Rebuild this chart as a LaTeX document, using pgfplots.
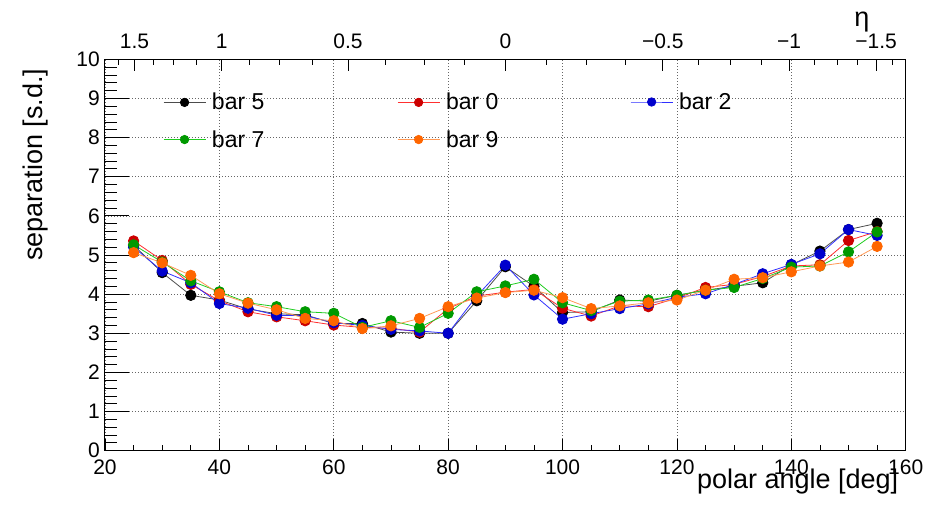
\documentclass[border=0pt]{standalone}
\usepackage{fontspec}
\setmainfont{Liberation Sans}
\usepackage{pgfplots}
\pgfplotsset{compat=1.18}
\definecolor{mred}{HTML}{CC0000}
\definecolor{lred}{HTML}{FF3030}
\definecolor{mblue}{HTML}{0000CC}
\definecolor{lblue}{HTML}{3030FF}
\definecolor{mgreen}{HTML}{009900}
\definecolor{lgreen}{HTML}{20CC20}
\definecolor{morange}{HTML}{FF6600}
\definecolor{lorange}{HTML}{FF9955}
\newcommand\tickfont{\fontsize{21bp}{23bp}\selectfont}
\newcommand\labfont{\fontsize{27bp}{30bp}\selectfont}
\newcommand\legfont{\fontsize{23bp}{25bp}\selectfont}
\pgfplotsset{
  common/.style={at={(0,0)}, anchor=south west, scale only axis,
    width=800.7bp, height=391.4bp, xmin=20, xmax=160, ymin=0, ymax=10,
    /pgf/number format/assume math mode=true, tick align=inside},
  s5/.style={color=black!70, line width=0.8bp, mark=*, mark size=5.2bp, mark options={draw=black, fill=black}},
  s0/.style={color=lred, line width=0.8bp, mark=*, mark size=5.2bp, mark options={draw=mred, fill=mred}},
  s2/.style={color=lblue, line width=0.8bp, mark=*, mark size=5.2bp, mark options={draw=mblue, fill=mblue}},
  s7/.style={color=lgreen, line width=0.8bp, mark=*, mark size=5.2bp, mark options={draw=mgreen, fill=mgreen}},
  s9/.style={color=lorange, line width=0.8bp, mark=*, mark size=5.2bp, mark options={draw=morange, fill=morange}},
  legax/.style={common, hide axis,
    legend style={draw=none, fill=none, inner sep=0pt, font=\legfont, anchor=west, row sep=15bp,
      /tikz/every odd column/.append style={column sep=4bp}},
    legend cell align=left,
    legend image code/.code={\draw[mark repeat=2,mark phase=2,##1,mark size=4.2bp] plot coordinates {(0bp,0bp) (21bp,0bp) (42bp,0bp)};}},
}
\begin{document}
\begin{tikzpicture}
\path[use as bounding box] (-105bp,-54.3bp) rectangle (821bp,450.7bp);
\begin{axis}[common,
  xtick={20,40,...,160}, xticklabels={}, xtick style={draw=none},
  ytick={0,1,...,10}, minor y tick num=4, ytick pos=left,
  major tick length=24bp, minor tick length=12bp,
  tick style={line width=0.8bp, black},
  axis line style={line width=1bp},
  yticklabel style={font=\tickfont, inner sep=0pt, xshift=-5bp},
  xmajorgrids, ymajorgrids,
  major grid style={black!60, line width=0.7bp, dash pattern=on 1bp off 2bp},
  ylabel={separation [s.d.]},
  ylabel style={font=\labfont, at={([xshift=-62bp,yshift=-6bp]rel axis cs:0,1)}, anchor=base east},
]
\addplot[s5] coordinates {
(25,5.25) (30,4.55) (35,3.97) (40,3.85) (45,3.62) (50,3.50) (55,3.47) (60,3.25) (65,3.25) (70,3.03) (75,3.00) (80,3.00) (85,3.83) (90,4.70) (95,4.20) (100,3.53) (105,3.55) (110,3.85) (115,3.82) (120,3.97) (125,4.10) (130,4.20) (135,4.29) (140,4.75) (145,5.10) (150,5.65) (155,5.81)};
\addplot[s0] coordinates {
(25,5.36) (30,4.86) (35,4.25) (40,3.83) (45,3.55) (50,3.42) (55,3.32) (60,3.21) (65,3.15) (70,3.13) (75,3.03) (80,3.63) (85,3.95) (90,4.05) (95,4.12) (100,3.64) (105,3.44) (110,3.70) (115,3.68) (120,3.90) (125,4.17) (130,4.25) (135,4.45) (140,4.72) (145,4.75) (150,5.37) (155,5.60)};
\addplot[s2] coordinates {
(25,5.20) (30,4.59) (35,4.29) (40,3.76) (45,3.64) (50,3.46) (55,3.45) (60,3.27) (65,3.20) (70,3.10) (75,3.06) (80,3.00) (85,3.95) (90,4.74) (95,3.98) (100,3.36) (105,3.50) (110,3.63) (115,3.75) (120,3.92) (125,4.01) (130,4.25) (135,4.52) (140,4.76) (145,5.03) (150,5.65) (155,5.50)};
\addplot[s7] coordinates {
(25,5.26) (30,4.82) (35,4.34) (40,4.06) (45,3.78) (50,3.68) (55,3.55) (60,3.51) (65,3.15) (70,3.32) (75,3.15) (80,3.51) (85,4.06) (90,4.21) (95,4.38) (100,3.78) (105,3.58) (110,3.82) (115,3.85) (120,3.97) (125,4.10) (130,4.17) (135,4.40) (140,4.69) (145,4.72) (150,5.08) (155,5.59)};
\addplot[s9] coordinates {
(25,5.06) (30,4.80) (35,4.48) (40,4.01) (45,3.77) (50,3.60) (55,3.38) (60,3.32) (65,3.12) (70,3.19) (75,3.38) (80,3.68) (85,3.90) (90,4.04) (95,4.10) (100,3.91) (105,3.63) (110,3.70) (115,3.78) (120,3.85) (125,4.10) (130,4.38) (135,4.42) (140,4.57) (145,4.72) (150,4.82) (155,5.22)};
\end{axis}
% legends, one per column
\begin{axis}[legax, legend style={at={(rel axis cs:0.0724,0.8424)}}]
\addlegendimage{s5}\addlegendentry{bar 5}
\addlegendimage{s7}\addlegendentry{bar 7}
\end{axis}
\begin{axis}[legax, legend style={at={(rel axis cs:0.3647,0.8424)}}]
\addlegendimage{s0}\addlegendentry{bar 0}
\addlegendimage{s9}\addlegendentry{bar 9}
\end{axis}
\begin{axis}[legax, legend style={at={(rel axis cs:0.6557,0.8909)}}]
\addlegendimage{s2}\addlegendentry{bar 2}
\end{axis}
% bottom axis ticks and labels
\begin{axis}[common,
  axis line style={draw=none}, ytick=\empty,
  xtick={20,40,...,160}, minor x tick num=3, xtick pos=left,
  major tick length=12bp, minor tick length=6bp,
  tick style={line width=0.8bp, black},
  xticklabel style={font=\tickfont, inner sep=0pt, yshift=-9bp},
  xlabel={polar angle [deg]},
  xlabel style={font=\labfont, at={([xshift=-4bp,yshift=-38bp]rel axis cs:1,0)}, anchor=base east},
]
\end{axis}
% top eta axis
\begin{axis}[common,
  axis line style={draw=none}, ytick=\empty,
  xtick pos=right, xticklabel pos=right,
  xtick={25.16,40.39,62.48,90,117.52,139.61,154.84},
  xticklabels={1.5,1,0.5,0,−0.5,−1,−1.5},
  minor xtick={22.28,28.39,31.97,35.96,45.26,50.57,56.32,69.01,75.83,82.87,97.13,104.17,110.99,123.68,129.43,134.74,144.04,148.03,151.61,157.72},
  major tick length=12bp, minor tick length=6bp,
  tick style={line width=0.8bp, black},
  xticklabel style={font=\tickfont, inner sep=0pt, anchor=base, yshift=11bp},
  xlabel={η},
  xlabel style={font=\labfont, at={([yshift=33bp]rel axis cs:0.9454,1)}, anchor=base},
]
\end{axis}
\end{tikzpicture}
\end{document}
